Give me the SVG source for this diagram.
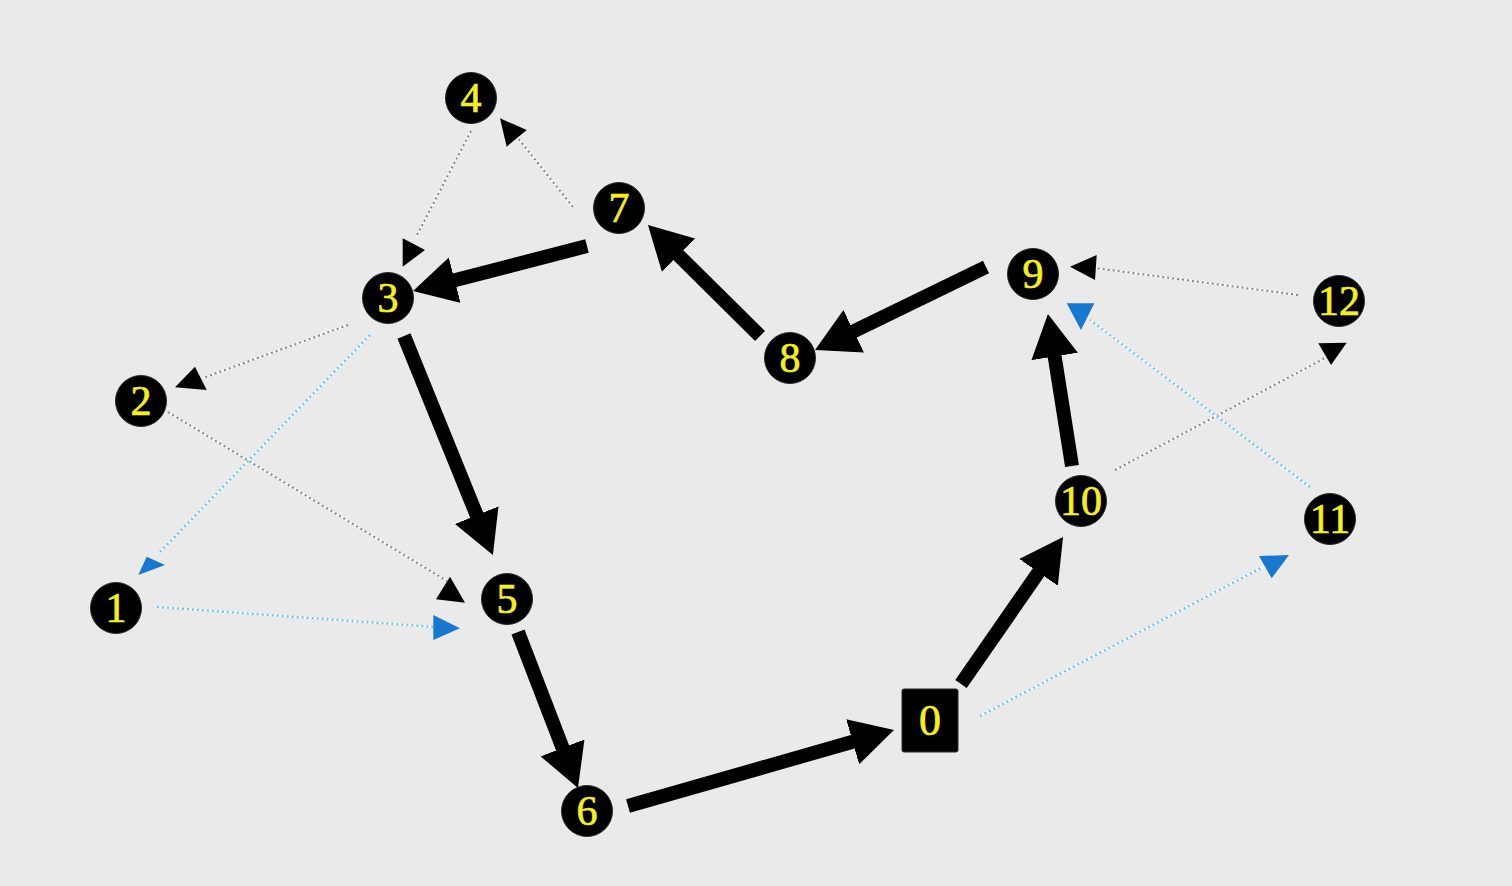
<svg xmlns="http://www.w3.org/2000/svg" width="1512" height="886" viewBox="0 0 1512 886">
  <style>
    .thick { stroke: #000; stroke-width: 14; fill: none; marker-end: url(#big); }
    .under { stroke: #ffffff; stroke-width: 2.2; fill: none; opacity: 0.8; }
    .gray { stroke: #858585; stroke-width: 2; stroke-dasharray: 2 3; fill: none; }
    .blue { stroke: #6cc4ee; stroke-width: 2.4; stroke-dasharray: 2 3; fill: none; }
    .ahb { fill: #000; }
    .ahc { fill: #1778d0; }
    .node { fill: #000; stroke: #2a2a2a; stroke-width: 1; }
    .lbl { fill: #f5ef1c; stroke: #f5ef1c; stroke-width: 0.7; font-family: "Liberation Serif", "Times New Roman", serif; font-size: 42px; text-anchor: middle; }
  </style>
  <defs>
    <marker id="big" markerUnits="userSpaceOnUse" markerWidth="43" markerHeight="47" viewBox="0 0 43 47" refX="1" refY="23.5" orient="auto">
      <path d="M0,0 L43,23.5 L0,47 z" fill="#000"/>
    </marker>
  </defs>
  <rect x="0" y="0" width="1512" height="886" fill="#ebebeb"/>
  <rect x="82" y="59" width="1430" height="827" fill="#eaeaea"/>

  <g id="connectors">
    <!-- thin dotted gray edges -->
    <g id="e-4-3"><line class="under" x1="471" y1="131" x2="416" y2="237"/><line class="gray" x1="471" y1="131" x2="416" y2="237"/><polygon class="ahb" points="402.7,238.3 425,250 402.7,266.7"/></g>
    <g id="e-7-4"><line class="under" x1="573" y1="207" x2="517" y2="137"/><line class="gray" x1="573" y1="207" x2="517" y2="137"/><polygon class="ahb" points="500,118.3 526.7,130 506.7,146.7"/></g>
    <g id="e-3-2"><line class="under" x1="348" y1="325" x2="203" y2="378"/><line class="gray" x1="348" y1="325" x2="203" y2="378"/><polygon class="ahb" points="175,387.3 195,366.7 206.7,390"/></g>
    <g id="e-2-5"><line class="under" x1="168" y1="412" x2="447" y2="581"/><line class="gray" x1="168" y1="412" x2="447" y2="581"/><polygon class="ahb" points="436,599.3 450,576.7 465,602.7"/></g>
    <g id="e-12-9"><line class="under" x1="1298" y1="295" x2="1095" y2="268"/><line class="gray" x1="1298" y1="295" x2="1095" y2="268"/><polygon class="ahb" points="1070,266.7 1096.7,255 1095,280"/></g>
    <g id="e-10-12"><line class="under" x1="1115" y1="470" x2="1325" y2="358"/><line class="gray" x1="1115" y1="470" x2="1325" y2="358"/><polygon class="ahb" points="1318.3,343.3 1346.7,342.7 1331,365"/></g>
    <!-- thin dotted blue edges -->
    <g id="e-3-1"><line class="under" x1="370" y1="335" x2="160" y2="552"/><line class="blue" x1="370" y1="335" x2="160" y2="552"/><polygon class="ahc" points="146.7,556.7 165,565 138.3,575"/></g>
    <g id="e-1-5"><line class="under" x1="157" y1="607" x2="435" y2="627"/><line class="blue" x1="157" y1="607" x2="435" y2="627"/><polygon class="ahc" points="433.3,615 460,628.3 433.3,640"/></g>
    <g id="e-11-9"><line class="under" x1="1310" y1="487" x2="1090" y2="320"/><line class="blue" x1="1310" y1="487" x2="1090" y2="320"/><polygon class="ahc" points="1066.7,303.3 1094.3,303.3 1081,330"/></g>
    <g id="e-0-11"><line class="under" x1="980" y1="716" x2="1263" y2="567"/><line class="blue" x1="980" y1="716" x2="1263" y2="567"/><polygon class="ahc" points="1259,556 1289,555 1271.7,578.3"/></g>
    <!-- thick path edges -->
    <line id="e-7-3" class="thick" x1="587" y1="246" x2="453.7" y2="280.5"/>
    <line id="e-8-7" class="thick" x1="760" y1="336" x2="677.8" y2="254.6"/>
    <line id="e-9-8" class="thick" x1="986" y1="267" x2="852.8" y2="331.7"/>
    <line id="e-3-5" class="thick" x1="404" y1="336" x2="477.1" y2="516.1"/>
    <line id="e-5-6" class="thick" x1="518" y1="632" x2="562.9" y2="748.8"/>
    <line id="e-6-0" class="thick" x1="628" y1="806" x2="853.6" y2="741.5"/>
    <line id="e-0-10" class="thick" x1="961" y1="684" x2="1039.1" y2="571.5"/>
    <line id="e-10-9" class="thick" x1="1072" y1="466" x2="1054.5" y2="355.5"/>
  </g>

  <g id="node-0"><rect class="node" x="902" y="689" width="56" height="63" rx="2"/><text class="lbl" x="930" y="735" style="font-size:44px">0</text></g>
  <g id="node-1"><circle class="node" cx="116" cy="608" r="25.5"/><text class="lbl" x="116" y="622">1</text></g>
  <g id="node-2"><circle class="node" cx="141" cy="401" r="25.5"/><text class="lbl" x="141" y="415">2</text></g>
  <g id="node-3"><circle class="node" cx="388" cy="298" r="25.5"/><text class="lbl" x="388" y="312">3</text></g>
  <g id="node-4"><circle class="node" cx="471" cy="98" r="25.5"/><text class="lbl" x="471" y="112">4</text></g>
  <g id="node-5"><circle class="node" cx="507" cy="599" r="25.5"/><text class="lbl" x="507" y="613">5</text></g>
  <g id="node-6"><circle class="node" cx="587" cy="811" r="25.5"/><text class="lbl" x="587" y="825">6</text></g>
  <g id="node-7"><circle class="node" cx="619" cy="208" r="25.5"/><text class="lbl" x="619" y="222">7</text></g>
  <g id="node-8"><circle class="node" cx="790" cy="358" r="25.5"/><text class="lbl" x="790" y="372">8</text></g>
  <g id="node-9"><circle class="node" cx="1033" cy="274" r="25.5"/><text class="lbl" x="1033" y="288">9</text></g>
  <g id="node-10"><circle class="node" cx="1081" cy="501" r="25.5"/><text class="lbl" x="1081" y="515">10</text></g>
  <g id="node-11"><circle class="node" cx="1330" cy="519" r="25.5"/><text class="lbl" x="1330" y="533">11</text></g>
  <g id="node-12"><circle class="node" cx="1339" cy="301" r="25.5"/><text class="lbl" x="1339" y="315">12</text></g>
</svg>
